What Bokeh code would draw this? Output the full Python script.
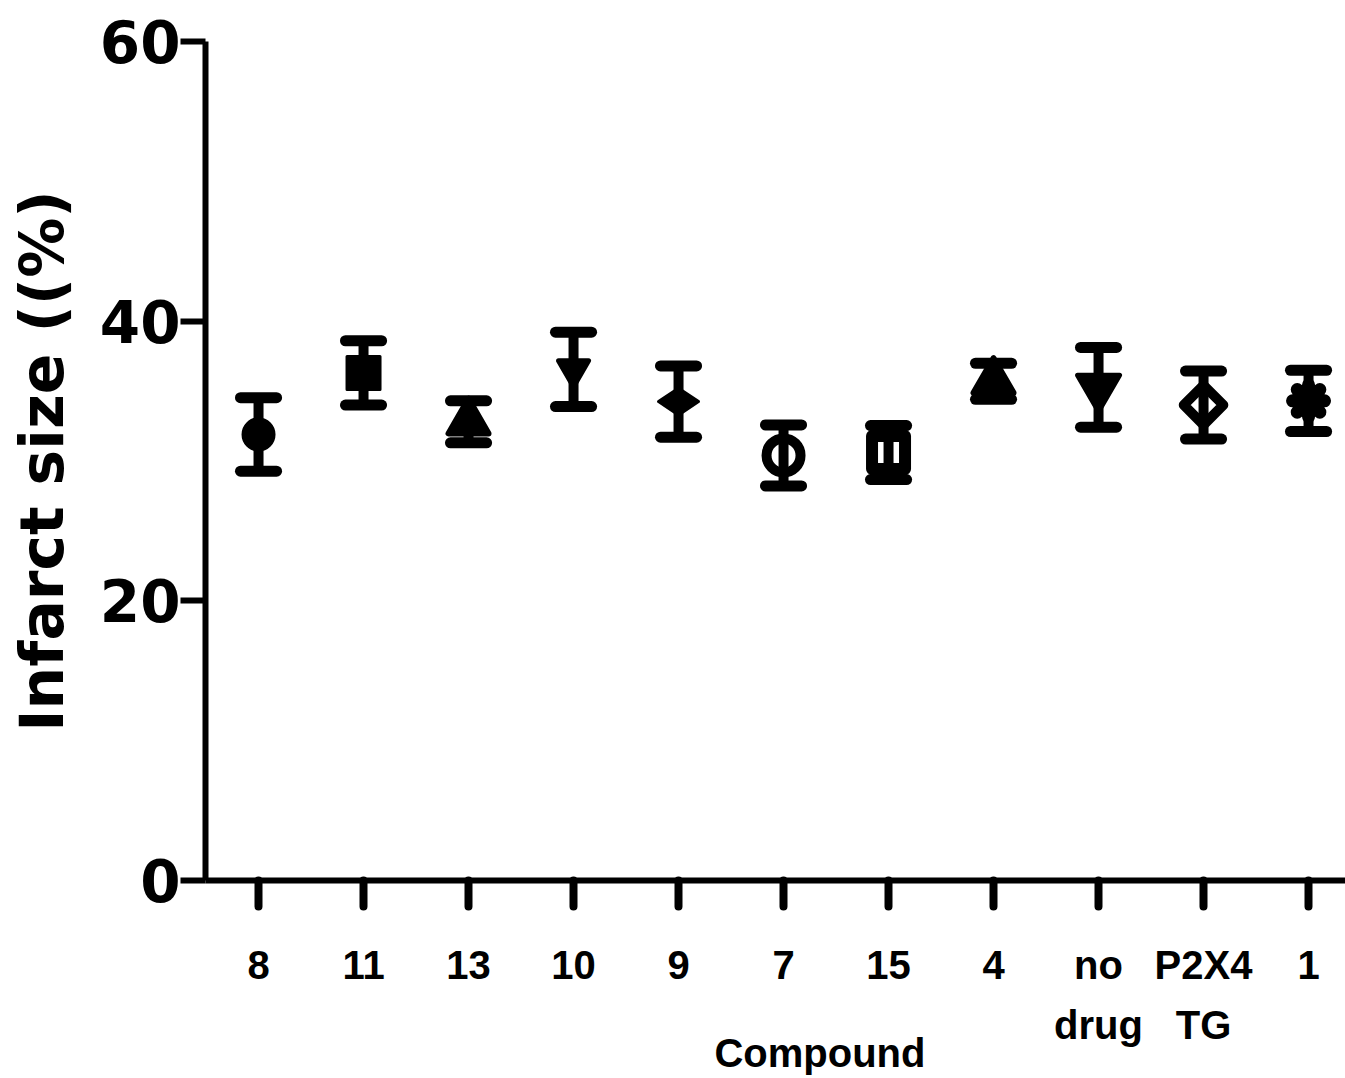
from bokeh.plotting import figure
from bokeh.models import Range1d, FixedTicker, ColumnDataSource
from bokeh.embed import file_html
from bokeh.resources import INLINE

# ---- data ----
compounds = ["8", "11", "13", "10", "9", "7", "15", "4", "no\ndrug", "P2X4\nTG", "1"]
infarct_mean = [31.9, 36.3, 32.8, 36.55, 34.25, 30.4, 30.6, 35.7, 35.27, 34.0, 34.3]
infarct_sem = [2.63, 2.3, 1.5, 2.66, 2.55, 2.18, 1.93, 1.29, 2.85, 2.43, 2.19]
y_ticks = [0, 20, 40, 60]
x_title = "Compound"
y_title = "Infarct size ((%)"

# ---- per-point marker styles ----
marker_kind = ["circle", "square", "triangle", "inverted_triangle", "diamond", "circle",
               "square", "triangle", "inverted_triangle", "square", "asterisk"]
marker_size = [30, 33, 40, 30, 40, 34, 33, 40, 42, 28, 32]
marker_angle = [0, 0, 0, 0, 1.5708, 0, 0, 0, 0, 0.7854, 0]
marker_fill = [1, 1, 1, 1, 1, 0, 0, 1, 1, 0, 1]
marker_lw = [4, 3, 6, 5, 3, 10, 12, 6, 5, 10, 13]

positions = list(range(1, len(compounds) + 1))
lo = [m - s for m, s in zip(infarct_mean, infarct_sem)]
hi = [m + s for m, s in zip(infarct_mean, infarct_sem)]
cap_half = 0.172

src = ColumnDataSource(dict(
    x=positions, y=infarct_mean, lo=lo, hi=hi,
    cx0=[p - cap_half for p in positions], cx1=[p + cap_half for p in positions],
    marker=marker_kind, size=marker_size, angle=marker_angle,
    falpha=marker_fill, lw=marker_lw,
))

p = figure(width=1345, height=1078,
           x_range=Range1d(0.495, 11.352), y_range=Range1d(0, 60),
           output_backend="svg", toolbar_location=None,
           min_border_left=205, min_border_right=0,
           min_border_top=41, min_border_bottom=196)
p.outline_line_color = None
p.xgrid.visible = False
p.ygrid.visible = False
p.background_fill_color = "white"
p.border_fill_color = "white"

# error bars
p.segment(x0="x", y0="lo", x1="x", y1="hi", source=src, line_color="black",
          line_width=10, line_cap="butt")
p.segment(x0="cx0", y0="hi", x1="cx1", y1="hi", source=src, line_color="black",
          line_width=11, line_cap="round")
p.segment(x0="cx0", y0="lo", x1="cx1", y1="lo", source=src, line_color="black",
          line_width=11, line_cap="round")

# markers
p.scatter(x="x", y="y", marker="marker", size="size", angle="angle", source=src,
          fill_color="black", fill_alpha="falpha", line_color="black",
          line_width="lw", line_join="round", line_cap="round")

# x axis
p.xaxis.ticker = FixedTicker(ticks=positions)
p.xaxis.major_label_overrides = {pos: lab for pos, lab in zip(positions, compounds)}
p.xaxis.major_label_text_font = "Liberation Sans"
p.xaxis.major_label_text_font_style = "bold"
p.xaxis.major_label_text_font_size = "40px"
p.xaxis.major_label_text_color = "black"
p.xaxis.major_label_text_line_height = 1.38
p.xaxis.major_label_standoff = 36
p.xaxis.axis_line_width = 6
p.xaxis.axis_line_color = "black"
p.xaxis.major_tick_line_width = 8
p.xaxis.major_tick_line_cap = "round"
p.xaxis.major_tick_out = 26
p.xaxis.major_tick_in = 0
p.xaxis.minor_tick_line_color = None
# leading no-break spaces shift the centred title to the right, as in the original
p.xaxis.axis_label = "\u00a0" * 8 + x_title
p.xaxis.axis_label_text_font = "Liberation Sans"
p.xaxis.axis_label_text_font_style = "bold"
p.xaxis.axis_label_text_font_size = "40px"
p.xaxis.axis_label_text_color = "black"
p.xaxis.axis_label_standoff = -19

# y axis
p.yaxis.ticker = FixedTicker(ticks=y_ticks)
p.yaxis.major_label_text_font = "DejaVu Sans"
p.yaxis.major_label_text_font_style = "bold"
p.yaxis.major_label_text_font_size = "58px"
p.yaxis.major_label_text_color = "black"
p.yaxis.major_label_standoff = 0
p.yaxis.axis_line_width = 6
p.yaxis.axis_line_color = "black"
p.yaxis.major_tick_line_width = 6
p.yaxis.major_tick_out = 25
p.yaxis.major_tick_in = 0
p.yaxis.minor_tick_line_color = None
p.yaxis.axis_label = y_title
p.yaxis.axis_label_text_font = "DejaVu Sans"
p.yaxis.axis_label_text_font_style = "bold"
p.yaxis.axis_label_text_font_size = "60px"
p.yaxis.axis_label_text_color = "black"
p.yaxis.axis_label_standoff = 20

open("out.html", "w").write(file_html(p, INLINE))
